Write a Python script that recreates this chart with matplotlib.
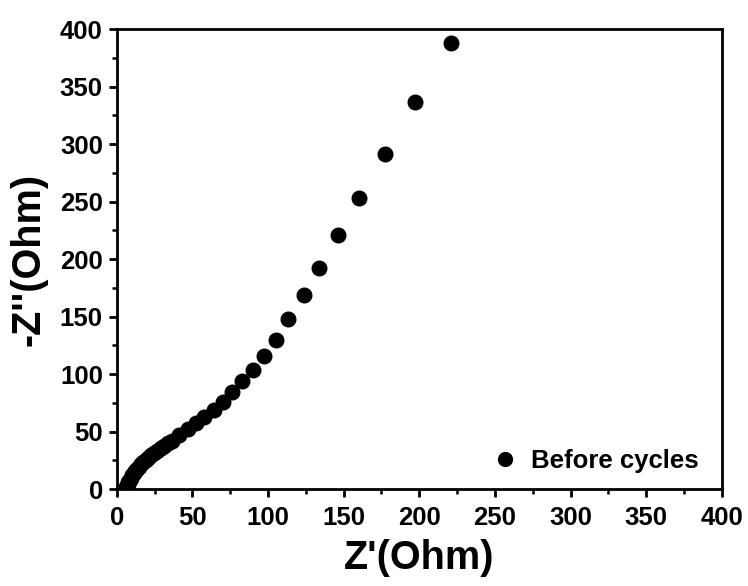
import matplotlib.pyplot as plt
from matplotlib.ticker import MultipleLocator

plt.rcParams['font.family'] = ['Liberation Sans', 'DejaVu Sans']
plt.rcParams['font.weight'] = 'bold'

# Nyquist data (Ohm)
z_real = [6.0, 6.3, 6.7, 7.2, 7.8, 8.5, 9.3, 10.2, 11.2, 12.3, 13.5, 14.8,
          16.2, 17.7, 19.3, 21.0, 22.8, 24.7, 26.8, 29.0, 31.4, 33.9, 36.6,
          41.5, 47.0, 52.5, 58.0, 64.0, 70.5, 76.4, 83.0, 89.9, 97.4, 105.1,
          113.4, 123.5, 133.9, 146.5, 160.4, 177.3, 197.2, 220.7]
z_imag = [0.3, 1.5, 2.9, 4.5, 6.2, 8.0, 9.9, 11.8, 13.8, 15.8, 17.6, 19.5,
          21.4, 23.3, 25.3, 27.3, 29.3, 31.3, 33.3, 35.4, 37.5, 39.7, 42.0,
          47.0, 52.0, 57.0, 62.5, 68.5, 76.0, 84.0, 94.0, 103.6, 115.8, 129.7,
          147.7, 168.4, 192.1, 220.5, 253.0, 291.3, 336.2, 387.9]
label = 'Before cycles'

fig = plt.figure(figsize=(7.48, 5.86), dpi=100)
ax = fig.add_axes([0.156, 0.1655, 0.809, 0.785])

ax.plot(z_real, z_imag, 'o', color='black', markersize=10.5, label=label)

ax.set_xlim(0, 400)
ax.set_ylim(0, 400)
ax.xaxis.set_major_locator(MultipleLocator(50))
ax.yaxis.set_major_locator(MultipleLocator(50))
ax.xaxis.set_minor_locator(MultipleLocator(25))
ax.yaxis.set_minor_locator(MultipleLocator(25))

for s in ax.spines.values():
    s.set_linewidth(2.0)
ax.tick_params(which='major', direction='out', length=6, width=2, labelsize=18.5)
ax.tick_params(axis='x', which='major', pad=6)
ax.tick_params(axis='y', which='major', pad=4)
ax.tick_params(which='minor', direction='out', length=3.5, width=1.8)
ax.tick_params(top=False, right=False)
for t in ax.get_xticklabels() + ax.get_yticklabels():
    t.set_fontweight('bold')

ax.set_xlabel("Z'(Ohm)", fontsize=28.5, fontweight='bold', labelpad=7)
ax.set_ylabel("-Z''(Ohm)", fontsize=28.5, fontweight='bold', labelpad=9)

ax.legend(loc='lower right', bbox_to_anchor=(1.0, -0.015), frameon=False,
          handlelength=0.8, handletextpad=0.6, markerscale=0.95,
          prop={'weight': 'bold', 'size': 18.5})

fig.savefig('out.png', dpi=100)
